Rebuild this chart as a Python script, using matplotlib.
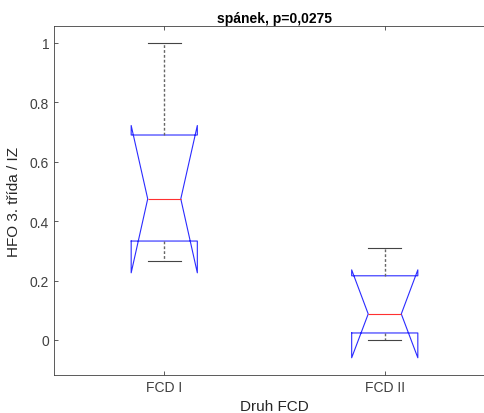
import matplotlib.pyplot as plt

plt.rcParams['font.family'] = ['Liberation Sans', 'DejaVu Sans']

# hodnoty
groups = ['FCD I', 'FCD II']
whislo = [0.266, 0.0]
q1 = [0.333, 0.0235]
med = [0.475, 0.0875]
q3 = [0.690, 0.216]
whishi = [1.0, 0.309]
cilo = [0.226, -0.060]
cihi = [0.722, 0.236]

stats = []
for i in range(len(groups)):
    stats.append(dict(label=groups[i], whislo=whislo[i], q1=q1[i], med=med[i],
                      q3=q3[i], whishi=whishi[i], cilo=cilo[i], cihi=cihi[i],
                      fliers=[]))

fig = plt.figure(figsize=(4.84, 4.14), dpi=100)
ax = fig.add_axes([54 / 484, 38 / 414, 441 / 484, 349 / 414])

ax.bxp(stats, positions=[1, 2], widths=0.3, shownotches=True, showfliers=False,
       boxprops=dict(color='#2b2bff', linewidth=0.8),
       medianprops=dict(color='#ff3030', linewidth=0.8),
       whiskerprops=dict(color='#666666', linestyle=(0, (2, 1.5)), linewidth=1.0),
       capprops=dict(color='#444444', linewidth=0.8),
       capwidths=0.15)

ax.set_xlim(0.5, 2.5)
ax.set_ylim(-0.118, 1.057)
ax.set_yticks([0, 0.2, 0.4, 0.6, 0.8, 1])
ax.set_yticklabels(['0', '0.2', '0.4', '0.6', '0.8', '1'])
ax.set_xticks([1, 2])
ax.set_xticklabels(groups)

for s in ax.spines.values():
    s.set_color('#404040')
    s.set_linewidth(0.6)
ax.tick_params(direction='in', top=True, right=True, length=3, width=0.6,
               colors='#404040', labelsize=10)

ax.set_title('spánek, p=0,0275', fontweight='bold', fontsize=10, pad=3)
ax.set_xlabel('Druh FCD', fontsize=11, color='#262626', labelpad=4)
ax.set_ylabel('HFO 3. třída / IZ', fontsize=11, color='#262626', labelpad=6)

fig.savefig('out.png', dpi=100)
